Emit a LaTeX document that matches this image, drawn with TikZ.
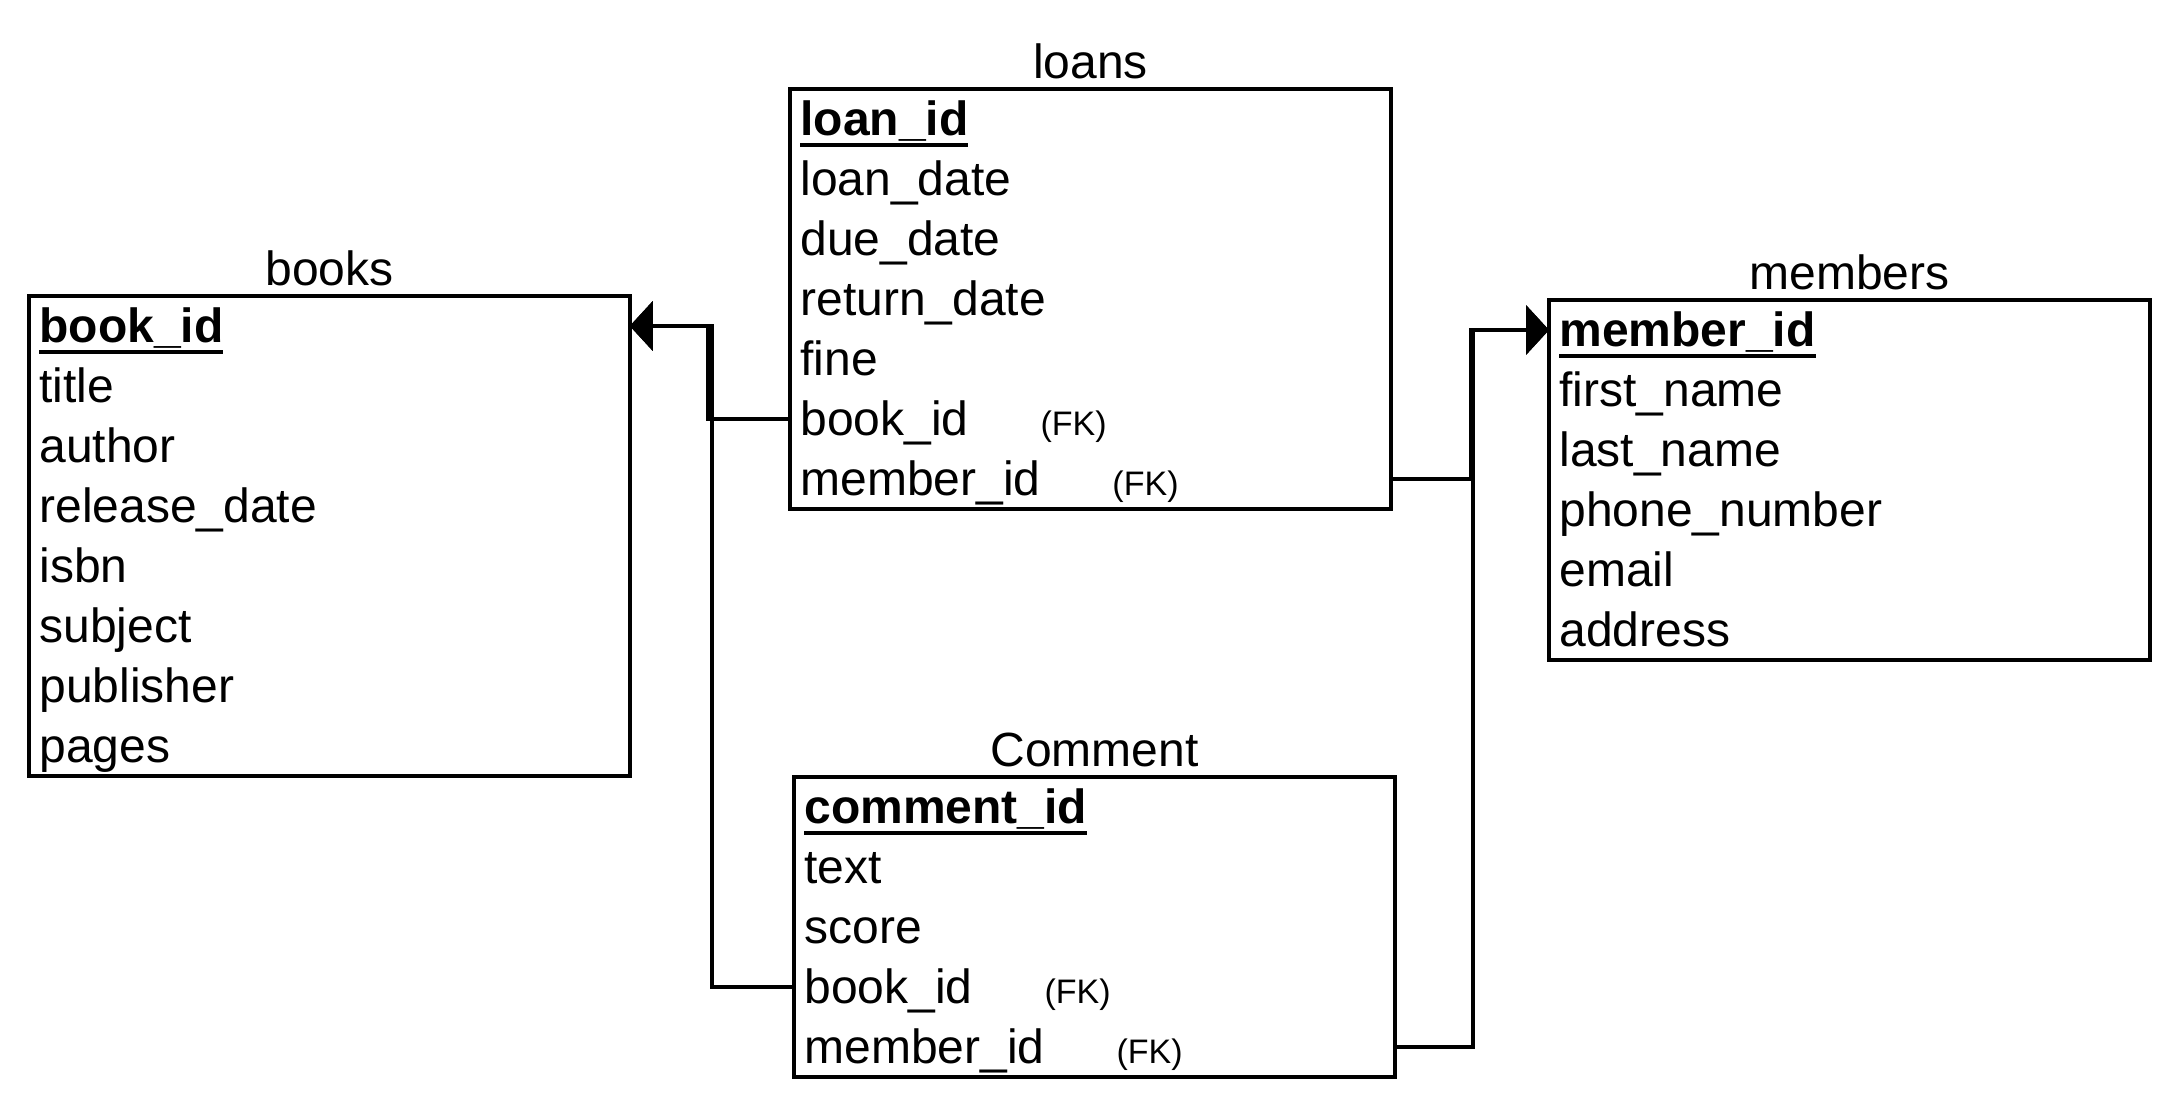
\documentclass[tikz,border=0pt]{standalone}
\usepackage{fontspec}
\setmainfont{Liberation Sans}
\usetikzlibrary{arrows.meta,positioning,fit}

\newcommand{\pkey}[1]{\setbox0\hbox{\bfseries #1}\rlap{\rule[-6pt]{\wd0}{2.2pt}}\box0}
\newcommand{\fk}{\hspace{36pt}{\fontsize{17}{17}\selectfont(FK)}}

\begin{document}
\begin{tikzpicture}[node distance=0pt,
    fld/.style={text width=290pt,inner xsep=5pt,inner ysep=0pt,text height=22.8pt,
    text depth=6.8pt,align=left,font=\fontsize{24}{28}\selectfont},
    tbl/.style={draw,line width=2.2pt,inner sep=0pt},
    ttl/.style={inner sep=0pt,font=\fontsize{24}{28}\selectfont},
    a/.style={line width=2.2pt,-{Triangle[length=11.5pt,width=24.5pt]}}]
    \useasboundingbox (0,0) rectangle (1088pt,-552pt);
    % books
    \node[fld,anchor=north west] (bk1) at (14.5pt,-148pt) {\pkey{book\_id}};
    \node[fld,below=of bk1] (bk2) {title};
    \node[fld,below=of bk2] (bk3) {author};
    \node[fld,below=of bk3] (bk4) {release\_date};
    \node[fld,below=of bk4] (bk5) {isbn};
    \node[fld,below=of bk5] (bk6) {subject};
    \node[fld,below=of bk6] (bk7) {publisher};
    \node[fld,below=of bk7] (bk8) {pages};
    \node[tbl,fit=(bk1)(bk8)] (books) {};
    \node[ttl,above=3.5pt of books] (booksT) {books};
    % loans
    \node[fld,anchor=north west] (ln1) at (395pt,-44.5pt) {\pkey{loan\_id}};
    \node[fld,below=of ln1] (ln2) {loan\_date};
    \node[fld,below=of ln2] (ln3) {due\_date};
    \node[fld,below=of ln3] (ln4) {return\_date};
    \node[fld,below=of ln4] (ln5) {fine};
    \node[fld,below=of ln5] (ln6) {book\_id\fk};
    \node[fld,below=of ln6] (ln7) {member\_id\fk};
    \node[tbl,fit=(ln1)(ln7)] (loans) {};
    \node[ttl,above=3.5pt of loans] (loansT) {loans};
    % members
    \node[fld,anchor=north west] (mb1) at (774.5pt,-150pt) {\pkey{member\_id}};
    \node[fld,below=of mb1] (mb2) {first\_name};
    \node[fld,below=of mb2] (mb3) {last\_name};
    \node[fld,below=of mb3] (mb4) {phone\_number};
    \node[fld,below=of mb4] (mb5) {email};
    \node[fld,below=of mb5] (mb6) {address};
    \node[tbl,fit=(mb1)(mb6)] (members) {};
    \node[ttl,above=3.5pt of members] (membersT) {members};
    % Comment
    \node[fld,anchor=north west] (cm1) at (397pt,-388.5pt) {\pkey{comment\_id}};
    \node[fld,below=of cm1] (cm2) {text};
    \node[fld,below=of cm2] (cm3) {score};
    \node[fld,below=of cm3] (cm4) {book\_id\fk};
    \node[fld,below=of cm4] (cm5) {member\_id\fk};
    \node[tbl,fit=(cm1)(cm5)] (comment) {};
    \node[ttl,above=3.5pt of comment] (commentT) {Comment};
    % foreign keys
    \draw[a] (ln6.west) -- ++(-41pt,0) |- (bk1.east);
    \draw[a] (cm4.west) -- ++(-41pt,0) |- (bk1.east);
    \draw[a] (ln7.east) -- ++(40pt,0) |- (mb1.west);
    \draw[a] (cm5.east) -- ++(39pt,0) |- (mb1.west);
\end{tikzpicture}
\end{document}
